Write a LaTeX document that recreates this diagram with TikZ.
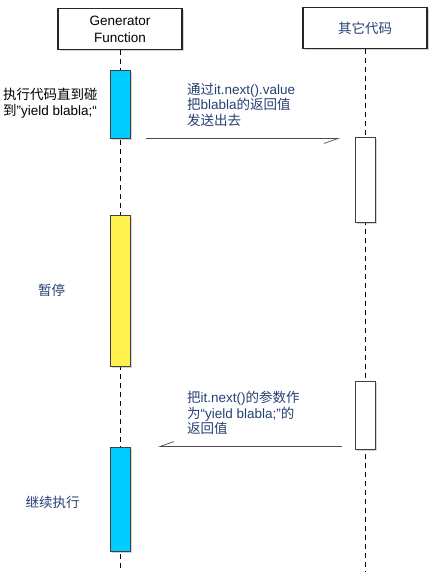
\documentclass[tikz,border=0pt]{standalone}
\usepackage{fontspec}
\setmainfont{Liberation Sans}
\newfontfamily\cjk{Noto Sans CJK SC}
\usetikzlibrary{arrows.meta, positioning, calc, shadows}

\definecolor{labelblue}{HTML}{263F73}
\definecolor{actcyan}{HTML}{00CCFF}
\definecolor{actyellow}{HTML}{FFF24F}

\begin{document}
\begin{tikzpicture}[
    x=1pt, y=-1pt,
    font=\fontsize{13.5}{15.5}\selectfont,
    actor/.style={draw=black!85, line width=1.1pt, fill=white, minimum width=124pt, minimum height=41pt, align=center, inner sep=0pt, font=\fontsize{13.5}{17}\selectfont, drop shadow={shadow xshift=1.5pt, shadow yshift=-1.5pt, opacity=0.35}},
    activation/.style={draw=black!75, line width=0.9pt, minimum width=20pt, inner sep=0pt, drop shadow={shadow xshift=1.5pt, shadow yshift=-1.5pt, opacity=0.35}},
    lifeline/.style={dashed, dash pattern=on 5pt off 4pt, line width=0.7pt},
    msg/.style={-{Straight Barb[right, length=14pt, width=10pt]}, line width=0.7pt, black!70},
    note/.style={align=left, anchor=west, inner sep=0pt}
]
\useasboundingbox (0,0) rectangle (439,573);

% lifeline heads
\node[actor] (gen) at (120,29) {Generator\\Function};
\node[actor] (other) at (365,28) {\textcolor{labelblue}{\cjk 其它代码}};

% lifelines
\coordinate (genend) at (120,572);
\coordinate (otherend) at (365,572);
\draw[lifeline] (gen.south) -- (genend);
\draw[lifeline] (other.south) -- (otherend);

% activations
\node[activation, fill=actcyan, minimum height=68pt] (run1) at (120.5,104) {};
\node[activation, fill=white, minimum height=85pt] (ret1) at (365.5,179.5) {};
\node[activation, fill=actyellow, minimum height=151pt] (pause) at (120,290.5) {};
\node[activation, fill=white, minimum height=68pt] (ret2) at (365.5,415) {};
\node[activation, fill=actcyan, minimum height=104pt] (run2) at (120.5,499) {};

% messages
\draw[msg, shorten <=15pt, shorten >=15pt] (run1.south east) -- (run1.south east -| ret1.west);
\draw[msg, shorten <=13pt, shorten >=27pt] (ret2.west |- run2.north) -- (run2.north east);

% notes
\node[note] (runnote) at (3,103) {{\cjk 执行代码直到碰}\\{\cjk 到}”yield blabla;“};
\node[note, text=labelblue] (sendnote) at (187,104.5) {{\cjk 通过}it.next().value\\{\cjk 把}blabla{\cjk 的返回值}\\{\cjk 发送出去}};
\node[text=labelblue, inner sep=0pt] (pausenote) at (51.5,290) {\cjk 暂停};
\node[note, text=labelblue] (backnote) at (187,413) {{\cjk 把}it.next(){\cjk 的参数作}\\{\cjk 为}“yield blabla;”{\cjk 的}\\{\cjk 返回值}};
\node[text=labelblue, inner sep=0pt] (resumenote) at (52.5,502) {\cjk 继续执行};
\end{tikzpicture}
\end{document}
